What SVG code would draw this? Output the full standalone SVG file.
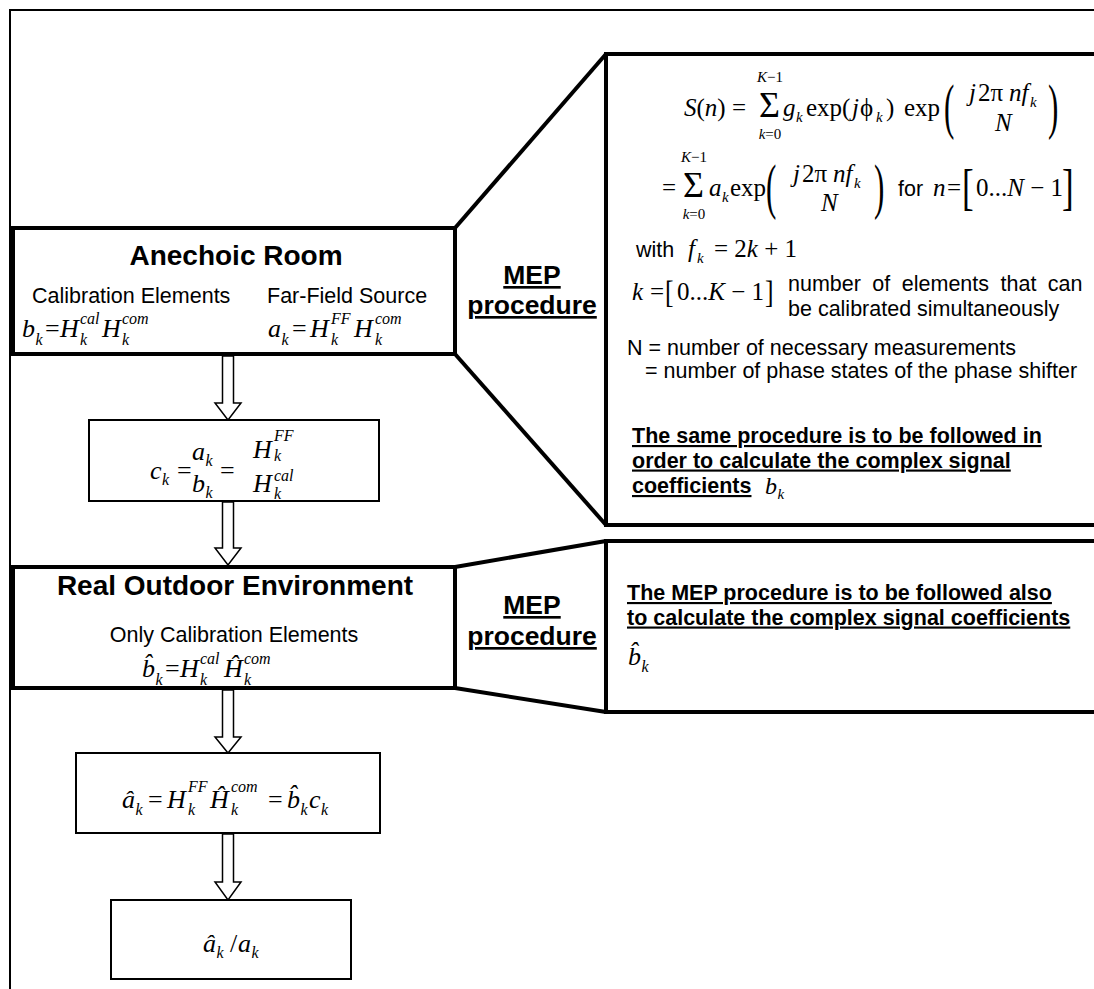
<svg xmlns="http://www.w3.org/2000/svg" width="1094" height="989" viewBox="0 0 1094 989">
<style>
.sans{font-family:"Liberation Sans",Arial,sans-serif;font-size:21.5px;fill:#000}
.bold{font-weight:bold}
.ul{text-decoration:underline}
.title{font-family:"Liberation Sans",Arial,sans-serif;font-size:28px;font-weight:bold;text-anchor:middle}
.mep{font-family:"Liberation Sans",Arial,sans-serif;font-size:26.5px;font-weight:bold;text-decoration:underline;text-anchor:middle}
.m{font-family:"Liberation Serif","Times New Roman","DejaVu Serif",serif;font-size:25px}
.f{font-size:26px}
.i{font-style:italic}
.s{font-size:15px}
.ss{font-size:16px}
.sig{font-size:36px}
.thick{fill:none;stroke:#000;stroke-width:4}
.box{fill:#fff;stroke:#000;stroke-width:2}
.arr{fill:#fff;stroke:#000;stroke-width:1.5}
.frame{fill:none;stroke:#000;stroke-width:2}
</style>
<rect width="1094" height="989" fill="#fff"/>
<g id="frame"><polyline class="frame" points="10,989 10,10 1094,10"/></g>

<g id="connectors">
  <polygon class="arr" points="222.5,356 233.5,356 233.5,403 241,403 228,420 215,403 222.5,403"/>
  <polygon class="arr" points="222.5,502 233.5,502 233.5,548 241,548 228,565 215,548 222.5,548"/>
  <polygon class="arr" points="222.5,690 233.5,690 233.5,737 241,737 228,753 215,737 222.5,737"/>
  <polygon class="arr" points="222.5,834 233.5,834 233.5,882 241,882 228,900 215,882 222.5,882"/>
  <polyline class="thick" points="455,228 606,54"/>
  <polyline class="thick" points="455,354 606,525"/>
  <polyline class="thick" points="455,567 606,541"/>
  <polyline class="thick" points="455,688 606,712"/>
</g>

<g id="anechoic">
  <rect class="thick" x="13" y="228" width="442" height="126"/>
  <text class="title" x="236" y="265">Anechoic Room</text>
  <text class="sans" x="32" y="303">Calibration Elements</text>
  <text class="sans" x="267" y="303">Far-Field Source</text>
  <text class="m f i" x="22" y="337">b</text>
  <text class="m i ss" x="35.5" y="345">k</text>
  <text class="m f" x="45" y="337">=</text>
  <text class="m f i" x="60" y="337">H</text>
  <text class="m i ss" x="80" y="324">cal</text>
  <text class="m i ss" x="80" y="345">k</text>
  <text class="m f i" x="102" y="337">H</text>
  <text class="m i ss" x="122" y="324">com</text>
  <text class="m i ss" x="122" y="345">k</text>
  <text class="m f i" x="268" y="337">a</text>
  <text class="m i ss" x="281.5" y="345">k</text>
  <text class="m f" x="292" y="337">=</text>
  <text class="m f i" x="310" y="337">H</text>
  <text class="m i ss" x="331" y="324">FF</text>
  <text class="m i ss" x="331" y="345">k</text>
  <text class="m f i" x="354" y="337">H</text>
  <text class="m i ss" x="375" y="324">com</text>
  <text class="m i ss" x="375" y="345">k</text>
</g>

<g id="mep1">
  <text class="mep" x="532" y="284">MEP</text>
  <text class="mep" x="532" y="314">procedure</text>
</g>

<g id="panel1">
  <path class="thick" d="M1094,54 H606 V525 H1094"/>
  <text class="m" x="684" y="116"><tspan class="i">S</tspan>(<tspan class="i">n</tspan>) =</text>
  <text class="m sig" x="759" y="117">Σ</text>
  <text class="m s" x="770" y="81.5" text-anchor="middle"><tspan class="i">K</tspan>−1</text>
  <text class="m s" x="770" y="139" text-anchor="middle"><tspan class="i">k</tspan>=0</text>
  <text class="m i" x="783" y="116">g</text>
  <text class="m i s" x="796" y="122">k</text>
  <text class="m" x="806" y="116">exp(</text>
  <text class="m i" x="852" y="116">j</text>
  <text class="m" x="860" y="116">ϕ</text>
  <text class="m i s" x="876" y="122">k</text>
  <text class="m" x="886" y="116">)</text>
  <text class="m" x="904" y="116">exp</text>
  <text class="m" transform="translate(944,127) scale(0.5,1)" style="font-size:62px">(</text>
  <text class="m i" x="969" y="101">j</text>
  <text class="m" x="978" y="101">2π</text>
  <text class="m i" x="1009" y="101">nf</text>
  <text class="m i s" x="1030" y="107">k</text>
  <text class="m i" x="995" y="131">N</text>
  <text class="m" transform="translate(1048,127) scale(0.5,1)" style="font-size:62px">)</text>

  <text class="m" x="662" y="196">=</text>
  <text class="m sig" x="683" y="197">Σ</text>
  <text class="m s" x="694" y="161.5" text-anchor="middle"><tspan class="i">K</tspan>−1</text>
  <text class="m s" x="694" y="219" text-anchor="middle"><tspan class="i">k</tspan>=0</text>
  <text class="m i" x="709" y="196">a</text>
  <text class="m i s" x="722" y="202">k</text>
  <text class="m" x="730" y="196">exp</text>
  <text class="m" transform="translate(766,207) scale(0.5,1)" style="font-size:62px">(</text>
  <text class="m i" x="793" y="182">j</text>
  <text class="m" x="802" y="182">2π</text>
  <text class="m i" x="833" y="182">nf</text>
  <text class="m i s" x="854" y="188">k</text>
  <text class="m i" x="821" y="211">N</text>
  <text class="m" transform="translate(874,207) scale(0.5,1)" style="font-size:62px">)</text>
  <text class="sans" x="898" y="196">for</text>
  <text class="m i" x="933" y="196">n</text>
  <text class="m" x="947" y="196">=</text>
  <text class="m" transform="translate(962,204) scale(0.7,1)" style="font-size:50px">[</text>
  <text class="m" x="976" y="196">0...<tspan class="i">N</tspan> − 1</text>
  <text class="m" transform="translate(1062,204) scale(0.7,1)" style="font-size:50px">]</text>

  <text class="sans" x="636" y="257">with</text>
  <text class="m i" x="688" y="257">f</text>
  <text class="m i s" x="697" y="263">k</text>
  <text class="m" x="714" y="257">= 2<tspan class="i">k</tspan> + 1</text>

  <text class="m i" x="632" y="300">k</text>
  <text class="m" x="650" y="300">=</text>
  <text class="m" transform="translate(665,303) scale(0.8,1)" style="font-size:32px">[</text>
  <text class="m" x="677" y="300">0...<tspan class="i">K</tspan> − 1</text>
  <text class="m" transform="translate(765,303) scale(0.8,1)" style="font-size:32px">]</text>
  <text class="sans" x="788" y="291" style="word-spacing:5.5px">number of elements that can</text>
  <text class="sans" x="788" y="316">be calibrated simultaneously</text>

  <text class="sans" x="627" y="355">N = number of necessary measurements</text>
  <text class="sans" x="645" y="378">= number of phase states of the phase shifter</text>

  <text class="sans bold ul" x="632" y="443">The same procedure is to be followed in</text>
  <text class="sans bold ul" x="632" y="467.5">order to calculate the complex signal</text>
  <text class="sans bold ul" x="632" y="493">coefficients</text>
  <text class="m i" x="765" y="494" style="font-size:24px">b</text>
  <text class="m i s" x="777.5" y="499">k</text>
</g>

<g id="ck">
  <rect class="box" x="89" y="420" width="290" height="81"/>
  <text class="m f i" x="150" y="479">c</text>
  <text class="m i ss" x="162" y="485">k</text>
  <text class="m f" x="177" y="479">=</text>
  <text class="m f i" x="192" y="460">a</text>
  <text class="m i ss" x="205.5" y="466">k</text>
  <text class="m f i" x="192" y="492">b</text>
  <text class="m i ss" x="205.5" y="498">k</text>
  <text class="m f" x="220" y="479">=</text>
  <text class="m f i" x="253" y="458">H</text>
  <text class="m i ss" x="274" y="441">FF</text>
  <text class="m i ss" x="274" y="461">k</text>
  <text class="m f i" x="253" y="492">H</text>
  <text class="m i ss" x="274" y="481">cal</text>
  <text class="m i ss" x="274" y="499">k</text>
</g>

<g id="outdoor">
  <rect class="thick" x="13" y="567" width="442" height="121"/>
  <text class="title" x="235" y="595">Real Outdoor Environment</text>
  <text class="sans" x="234" y="642" text-anchor="middle">Only Calibration Elements</text>
  <text class="m f i" x="142" y="677">b&#x302;</text>
  <text class="m i ss" x="155.5" y="685">k</text>
  <text class="m f" x="165" y="677">=</text>
  <text class="m f i" x="180" y="677">H</text>
  <text class="m i ss" x="200" y="664">cal</text>
  <text class="m i ss" x="200" y="685">k</text>
  <text class="m f i" x="224" y="677">Ĥ</text>
  <text class="m i ss" x="244" y="664">com</text>
  <text class="m i ss" x="244" y="685">k</text>
</g>

<g id="mep2">
  <text class="mep" x="532" y="614">MEP</text>
  <text class="mep" x="532" y="645">procedure</text>
</g>

<g id="panel2">
  <path class="thick" d="M1094,541 H606 V712 H1094"/>
  <text class="sans bold ul" x="627" y="600">The MEP procedure is to be followed also</text>
  <text class="sans bold ul" x="627" y="624.5">to calculate the complex signal coefficients</text>
  <text class="m f i" x="628" y="665">b&#x302;</text>
  <text class="m i ss" x="641.5" y="672">k</text>
</g>

<g id="ahat">
  <rect class="box" x="76" y="753" width="304" height="80"/>
  <text class="m f i" x="122" y="808">â</text>
  <text class="m i ss" x="135.5" y="815">k</text>
  <text class="m f" x="148" y="808">=</text>
  <text class="m f i" x="167" y="808">H</text>
  <text class="m i ss" x="188" y="792">FF</text>
  <text class="m i ss" x="188" y="815">k</text>
  <text class="m f i" x="210" y="808">Ĥ</text>
  <text class="m i ss" x="231" y="792">com</text>
  <text class="m i ss" x="231" y="815">k</text>
  <text class="m f" x="268" y="808">=</text>
  <text class="m f i" x="287" y="808">b&#x302;</text>
  <text class="m i ss" x="300.5" y="815">k</text>
  <text class="m f i" x="309" y="808">c</text>
  <text class="m i ss" x="321" y="815">k</text>
</g>

<g id="ratio">
  <rect class="box" x="111" y="900" width="240" height="79"/>
  <text class="m f i" x="203" y="952">â</text>
  <text class="m i ss" x="216.5" y="958">k</text>
  <text class="m f" x="230" y="952">/</text>
  <text class="m f i" x="238" y="952">a</text>
  <text class="m i ss" x="251.5" y="958">k</text>
</g>
</svg>
